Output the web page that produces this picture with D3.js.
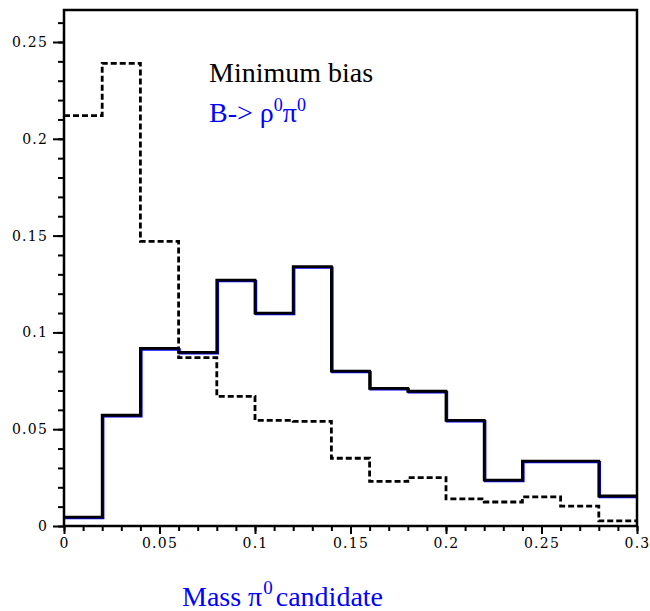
<!DOCTYPE html>
<html>
<head>
<meta charset="utf-8">
<script src="https://cdn.jsdelivr.net/npm/d3@7"></script>
<style>
  body { margin: 0; background: #fff; }
  svg text.tl { font-family: 'DejaVu Serif', 'Liberation Serif', serif; font-size: 14px; letter-spacing: 1.2px; fill: #000; }
  svg text.lab { font-family: 'Liberation Serif', 'Times New Roman', Times, serif; font-size: 28px; }
  .domain { display: none; }
</style>
</head>
<body>
<div id="graph"></div>
<script>
// bin edges: 15 bins of width 0.02 between 0 and 0.3
var binEdges = [0, 0.02, 0.04, 0.06, 0.08, 0.1, 0.12, 0.14, 0.16, 0.18, 0.2, 0.22, 0.24, 0.26, 0.28, 0.3];

// minimum bias (dashed)
var minBias = [0.212, 0.239, 0.147, 0.087, 0.067, 0.0546, 0.054, 0.035, 0.023, 0.025, 0.014, 0.0124, 0.015, 0.0103, 0.0026];

// B -> rho0 pi0 signal (solid)
var signal = [0.0046, 0.0572, 0.0917, 0.0897, 0.127, 0.110, 0.134, 0.080, 0.0711, 0.0696, 0.0546, 0.0237, 0.0335, 0.0335, 0.0155];

var xMajor = [0, 0.05, 0.1, 0.15, 0.2, 0.25, 0.3];
var yMajor = [0, 0.05, 0.1, 0.15, 0.2, 0.25];

var width = 650, height = 611;

var svg = d3.select('#graph')
  .append('svg')
  .attr('width', width)
  .attr('height', height);

// scales
var x = d3.scaleLinear().domain([0, 0.3]).range([64, 637]);
var y = d3.scaleLinear().domain([0, 0.25]).range([526, 42]);

var fmt = function(d) { return d === 0 ? '0' : String(+d.toFixed(2)); };

// minor ticks every 0.01
var xMinor = d3.range(0, 0.3001, 0.01);
var yMinor = d3.range(0, 0.2651, 0.01);

svg.append('g')
  .attr('transform', 'translate(0,526)')
  .call(d3.axisBottom(x).tickValues(xMinor).tickSize(5).tickFormat(''))
  .selectAll('line').attr('stroke-width', 2);

var gx = svg.append('g')
  .attr('transform', 'translate(0,526)')
  .call(d3.axisBottom(x).tickValues(xMajor).tickSize(8).tickPadding(4).tickFormat(fmt));
gx.selectAll('line').attr('stroke-width', 2);
gx.selectAll('text').attr('class', 'tl');

svg.append('g')
  .attr('transform', 'translate(64,0)')
  .call(d3.axisLeft(y).tickValues(yMinor).tickSize(6).tickFormat(''))
  .selectAll('line').attr('stroke-width', 2);

var gy = svg.append('g')
  .attr('transform', 'translate(64,0)')
  .call(d3.axisLeft(y).tickValues(yMajor).tickSize(11).tickPadding(5).tickFormat(fmt));
gy.selectAll('line').attr('stroke-width', 2);
gy.selectAll('text').attr('class', 'tl');

// step line through bin edges
function steps(vals) {
  var pts = vals.map(function(v, i) { return [binEdges[i], v]; });
  pts.push([binEdges[binEdges.length - 1], vals[vals.length - 1]]);
  return pts;
}

var stepLine = d3.line()
  .x(function(d) { return x(d[0]); })
  .y(function(d) { return y(d[1]); })
  .curve(d3.curveStepAfter);

// blue copy of the signal, slightly offset under the black one
svg.append('path')
  .datum(steps(signal))
  .attr('transform', 'translate(1,1)')
  .attr('fill', 'none')
  .attr('stroke', '#0000ff')
  .attr('stroke-width', 2.4)
  .attr('d', stepLine);

svg.append('path')
  .datum(steps(signal))
  .attr('fill', 'none')
  .attr('stroke', '#000')
  .attr('stroke-width', 2.8)
  .attr('d', stepLine);

svg.append('path')
  .datum(steps(minBias))
  .attr('fill', 'none')
  .attr('stroke', '#000')
  .attr('stroke-width', 2.8)
  .attr('stroke-dasharray', '6,3')
  .attr('d', stepLine);

// frame
svg.append('rect')
  .attr('x', 64)
  .attr('y', 10)
  .attr('width', 637 - 64)
  .attr('height', 526 - 10)
  .attr('fill', 'none')
  .attr('stroke', '#000')
  .attr('stroke-width', 2.5);

// legend
svg.append('text')
  .attr('class', 'lab')
  .attr('x', 209)
  .attr('y', 82)
  .attr('fill', '#000')
  .text('Minimum bias');

var leg2 = svg.append('text')
  .attr('class', 'lab')
  .attr('x', 209)
  .attr('y', 122)
  .attr('fill', '#0000ff');
leg2.append('tspan').text('B-> \u03c1');
leg2.append('tspan').attr('font-size', 18).attr('dy', -11).text('0');
leg2.append('tspan').attr('dy', 11).text('\u03c0');
leg2.append('tspan').attr('font-size', 18).attr('dy', -11).text('0');

// x axis title
var xt = svg.append('text')
  .attr('class', 'lab')
  .attr('x', 182)
  .attr('y', 606)
  .attr('fill', '#0000ff');
xt.append('tspan').text('Mass \u03c0');
xt.append('tspan').attr('font-size', 19).attr('dy', -12).attr('dx', 1).text('0');
xt.append('tspan').attr('dy', 12).attr('dx', 3).text('candidate');
</script>
</body>
</html>
